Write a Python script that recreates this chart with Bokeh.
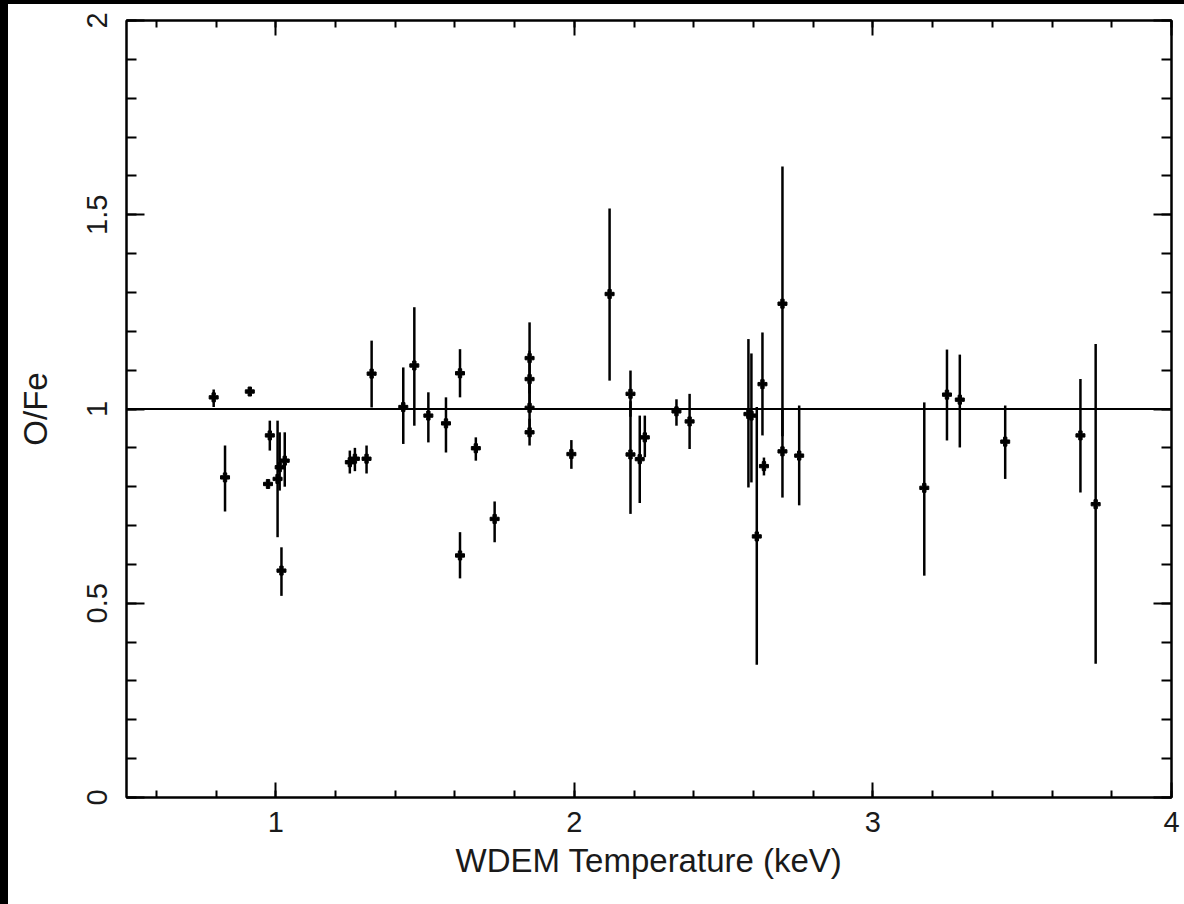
from bokeh.plotting import figure
from bokeh.models import ColumnDataSource, FixedTicker, LinearAxis, Span, Range1d, Div
from bokeh.layouts import row, column
from bokeh.embed import file_html
from bokeh.resources import INLINE

# ---- data ----
temp = [0.792, 0.913, 0.830, 0.980, 0.974, 1.006, 1.013, 1.030, 1.019,
        1.248, 1.265, 1.304, 1.321, 1.427, 1.464, 1.511, 1.570, 1.617, 1.617,
        1.670, 1.733, 1.850, 1.850, 1.850, 1.850, 1.990, 2.118, 2.188, 2.188,
        2.219, 2.236, 2.342, 2.386, 2.583, 2.593, 2.611, 2.630, 2.635, 2.697,
        2.697, 2.753, 3.172, 3.248, 3.291, 3.443, 3.695, 3.746]
ofe = [1.030, 1.045, 0.824, 0.932, 0.807, 0.820, 0.850, 0.867, 0.584,
       0.863, 0.872, 0.872, 1.091, 1.005, 1.112, 0.983, 0.963, 1.092, 0.623,
       0.899, 0.717, 1.131, 1.077, 1.003, 0.940, 0.884, 1.296, 1.039, 0.883,
       0.871, 0.927, 0.994, 0.968, 0.987, 0.983, 0.672, 1.064, 0.853, 1.271,
       0.891, 0.880, 0.797, 1.037, 1.024, 0.916, 0.932, 0.755]
ofe_lo = [1.005, 1.035, 0.736, 0.893, 0.800, 0.670, 0.790, 0.800, 0.519,
          0.834, 0.840, 0.834, 1.004, 0.910, 0.957, 0.914, 0.888, 1.030, 0.564,
          0.867, 0.657, 1.040, 1.000, 0.930, 0.906, 0.846, 1.073, 0.980, 0.730,
          0.758, 0.876, 0.957, 0.897, 0.798, 0.811, 0.342, 0.932, 0.829, 0.930,
          0.772, 0.752, 0.571, 0.919, 0.901, 0.820, 0.785, 0.344]
ofe_hi = [1.050, 1.055, 0.906, 0.970, 0.815, 0.970, 0.940, 0.940, 0.644,
          0.893, 0.900, 0.906, 1.176, 1.107, 1.262, 1.043, 1.030, 1.154, 0.683,
          0.927, 0.762, 1.223, 1.150, 1.070, 0.975, 0.920, 1.516, 1.099, 1.020,
          0.983, 0.983, 1.025, 1.039, 1.180, 1.143, 1.005, 1.197, 0.875, 1.624,
          1.000, 1.009, 1.017, 1.153, 1.140, 1.009, 1.077, 1.167]

x_major = [1, 2, 3, 4]
y_major = [0, 0.5, 1, 1.5, 2]
y_labels = ["0", "0.5", "1", "1.5", "2"]
ref_level = 1.0

FONT = "Liberation Sans"

src = ColumnDataSource(dict(x=temp, y=ofe, lo=ofe_lo, hi=ofe_hi))

# figure sits right of an 8px black strip and below a 4px black strip
p = figure(width=1176, height=900, output_backend="svg", toolbar_location=None,
           x_range=Range1d(0.5, 4), y_range=Range1d(0, 2),
           min_border_left=118, min_border_right=13, min_border_top=16,
           min_border_bottom=107)
p.background_fill_color = "white"
p.border_fill_color = "white"
p.outline_line_color = "black"
p.outline_line_width = 2
p.grid.visible = False

x_minor = [round(0.6 + 0.2 * i, 1) for i in range(18)]
y_minor = [round(0.1 * i, 1) for i in range(21)]
xt = FixedTicker(ticks=x_major, minor_ticks=x_minor)
yt = FixedTicker(ticks=y_major, minor_ticks=y_minor)

xa = p.xaxis[0]
xa.ticker = xt
xa.axis_label = "WDEM Temperature (keV)"
ya = p.yaxis[0]
ya.ticker = yt
ya.axis_label = "O/Fe"
ya.major_label_overrides = {v: s for v, s in zip(y_major, y_labels)}
ya.major_label_orientation = "vertical"

def style(ax, major_len, minor_len):
    ax.axis_line_width = 2
    ax.axis_line_color = "black"
    ax.major_tick_in = major_len
    ax.major_tick_out = 0
    ax.minor_tick_in = minor_len
    ax.minor_tick_out = 0
    ax.major_tick_line_width = 2
    ax.minor_tick_line_width = 2
    ax.major_label_text_font = FONT
    ax.major_label_text_font_size = "29px"
    ax.major_label_text_color = "#1a1a1a"
    ax.axis_label_text_font = FONT
    ax.axis_label_text_font_size = "33px"
    ax.axis_label_text_font_style = "normal"
    ax.axis_label_text_color = "#1a1a1a"

style(xa, 15, 7)
style(ya, 18, 10)
xa.major_label_standoff = 14
xa.axis_label_standoff = 7
ya.major_label_standoff = 20
ya.axis_label_standoff = 30

top = LinearAxis(ticker=xt)
right = LinearAxis(ticker=yt)
for ax, ml, mn in ((top, 15, 7), (right, 18, 10)):
    style(ax, ml, mn)
    ax.major_label_text_font_size = "1px"
    ax.major_label_text_color = None
    ax.major_label_standoff = 0
p.add_layout(top, "above")
p.add_layout(right, "right")

p.add_layout(Span(location=ref_level, dimension="width", line_color="black", line_width=2))

p.segment(x0="x", y0="lo", x1="x", y1="hi", source=src, line_color="black", line_width=2.5)
p.scatter(x="x", y="y", source=src, marker="plus", size=9, fill_color="black", line_color="black")

left_strip = Div(width=8, height=904, margin=0, styles={"background-color": "black"})
top_strip = Div(width=1176, height=4, margin=0, styles={"background-color": "black"})
layout = row(left_strip, column(top_strip, p, spacing=0, margin=0), spacing=0, margin=0)

open("out.html", "w").write(file_html(layout, INLINE))
